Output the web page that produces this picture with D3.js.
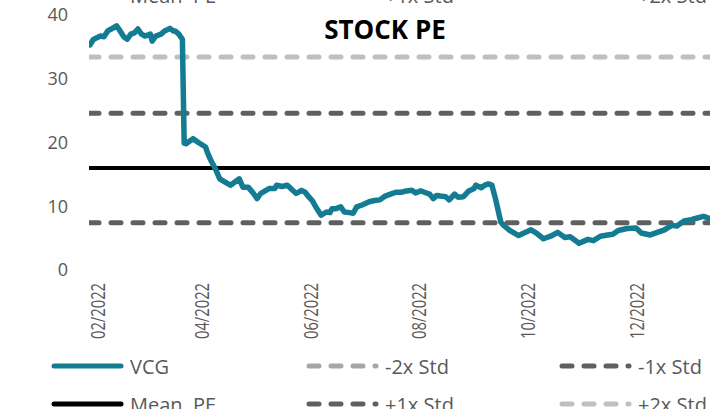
<!DOCTYPE html>
<html>
<head>
<meta charset="utf-8">
<script src="https://cdn.jsdelivr.net/npm/d3@7"></script>
<style>
  html, body { margin: 0; padding: 0; background: #fff; overflow: hidden; }
  svg { display: block; font-family: "Open Sans", sans-serif; }
</style>
</head>
<body>
<svg id="chart" width="710" height="409"></svg>
<script>
// VCG stock PE
const vcgDates = [
  "2022-01-28","2022-01-30","2022-01-31","2022-02-03","2022-02-05","2022-02-07","2022-02-09","2022-02-12",
  "2022-02-14","2022-02-16","2022-02-18","2022-02-20","2022-02-22","2022-02-24","2022-02-26","2022-02-28",
  "2022-03-03","2022-03-04","2022-03-06","2022-03-09","2022-03-11","2022-03-14","2022-03-16","2022-03-17",
  "2022-03-19","2022-03-21","2022-03-22","2022-03-23","2022-03-27","2022-03-30","2022-04-03","2022-04-04",
  "2022-04-06","2022-04-09","2022-04-11","2022-04-14","2022-04-17","2022-04-18","2022-04-22","2022-04-24",
  "2022-04-27","2022-04-30","2022-05-02","2022-05-04","2022-05-07","2022-05-09","2022-05-12","2022-05-13",
  "2022-05-16","2022-05-19","2022-05-22","2022-05-24","2022-05-27","2022-05-29","2022-05-31","2022-06-02",
  "2022-06-04","2022-06-07","2022-06-10","2022-06-12","2022-06-13","2022-06-15","2022-06-18","2022-06-20",
  "2022-06-23","2022-06-25","2022-06-27","2022-06-30","2022-07-04","2022-07-07","2022-07-10","2022-07-13",
  "2022-07-16","2022-07-19","2022-07-22","2022-07-25","2022-07-28","2022-07-30","2022-08-02","2022-08-04",
  "2022-08-07","2022-08-09","2022-08-11","2022-08-13","2022-08-16","2022-08-18","2022-08-21","2022-08-23",
  "2022-08-26","2022-08-29","2022-09-01","2022-09-02","2022-09-05","2022-09-07","2022-09-09","2022-09-11",
  "2022-09-13","2022-09-16","2022-09-18","2022-09-21","2022-09-26","2022-10-03","2022-10-06","2022-10-10",
  "2022-10-14","2022-10-18","2022-10-22","2022-10-25","2022-10-30","2022-11-04","2022-11-07","2022-11-11",
  "2022-11-15","2022-11-18","2022-11-21","2022-11-26","2022-12-01","2022-12-04","2022-12-09","2022-12-13",
  "2022-12-17","2022-12-21","2022-12-24","2022-12-28","2023-01-01","2023-01-05","2023-01-08","2023-01-12"
];
const vcgValues = [
  35.3, 36.2, 36.3, 36.7, 36.6, 37.5, 37.8, 38.3,
  37.5, 36.6, 36.2, 37.0, 37.2, 37.8, 37.0, 36.7,
  37.0, 35.9, 36.7, 37.0, 37.5, 37.9, 37.5, 37.5,
  37.0, 36.2, 19.9, 19.8, 20.6, 20.0, 19.3, 18.5,
  17.2, 15.6, 14.3, 13.8, 13.3, 13.5, 14.3, 13.0,
  13.0, 12.0, 11.2, 12.0, 12.5, 12.8, 12.8, 13.3,
  13.1, 13.3, 12.5, 12.0, 12.5, 12.2, 11.5, 10.9,
  9.9, 8.6, 9.1, 9.0, 9.6, 9.6, 9.9, 9.1,
  9.0, 8.9, 9.9, 10.2, 10.7, 10.9, 11.0, 11.6,
  11.9, 12.2, 12.2, 12.4, 12.5, 12.1, 12.4, 12.2,
  11.9, 11.2, 11.7, 11.6, 11.5, 11.0, 11.9, 11.4,
  11.5, 12.4, 12.8, 13.3, 12.9, 13.3, 13.5, 13.3,
  11.2, 7.5, 6.9, 6.2, 5.4, 6.3, 5.8, 4.9,
  5.3, 5.9, 5.1, 5.2, 4.2, 4.8, 4.6, 5.3,
  5.5, 5.6, 6.2, 6.5, 6.6, 5.8, 5.5, 5.9,
  6.3, 7.0, 6.9, 7.7, 7.9, 8.2, 8.4, 8.0
];

// horizontal reference lines
const bandNames  = ["-2x Std", "-1x Std", "Mean  PE", "+1x Std", "+2x Std"];
const bandValues = [-1.4, 7.4, 16.0, 24.6, 33.4];

const yTicks = [0, 10, 20, 30, 40];
const xTickDates = ["2022-02-01","2022-04-01","2022-06-01","2022-08-01","2022-10-01","2022-12-01"];

const chartTitle = "STOCK PE";
const seriesName = "VCG";

const parse = d3.timeParse("%Y-%m-%d");
const fmt = d3.timeFormat("%m/%Y");

const teal = "#137c93";
const bandStyle = {
  "-2x Std":  {color: "#a6a6a6", dash: true,  width: 5},
  "-1x Std":  {color: "#606060", dash: true,  width: 5},
  "Mean  PE": {color: "#000000", dash: false, width: 4},
  "+1x Std":  {color: "#606060", dash: true,  width: 5},
  "+2x Std":  {color: "#bfbfbf", dash: true,  width: 5}
};

const svg = d3.select("#chart");
const plotLeft = 89, plotRight = 710, plotTop = 0, plotBottom = 272;

const x = d3.scaleTime()
  .domain([parse("2022-02-01"), parse("2022-12-01")])
  .range([97, 636]);
const y = d3.scaleLinear().domain([0, 40]).range([270, 15]);

svg.append("defs").append("clipPath").attr("id", "plotclip")
  .append("rect")
  .attr("x", plotLeft).attr("y", plotTop)
  .attr("width", plotRight - plotLeft).attr("height", plotBottom - plotTop);

// y axis labels
const yAxis = svg.append("g")
  .attr("transform", "translate(68,0)")
  .call(d3.axisLeft(y).tickValues(yTicks).tickSize(0).tickPadding(0));
yAxis.select(".domain").remove();
yAxis.selectAll("text")
  .attr("font-family", "Open Sans")
  .attr("font-size", 18)
  .attr("fill", "#595959");

// x axis labels, rotated
const xAxis = svg.append("g")
  .attr("transform", "translate(0,283)")
  .call(d3.axisBottom(x).tickValues(xTickDates.map(parse)).tickFormat(fmt).tickSize(0).tickPadding(0));
xAxis.select(".domain").remove();
xAxis.selectAll("text")
  .attr("font-family", "Open Sans")
  .attr("font-size", 20)
  .attr("fill", "#595959")
  .attr("text-anchor", "end")
  .attr("transform", "rotate(-90)")
  .attr("x", 0)
  .attr("y", 0)
  .attr("dy", "0.35em")
  .attr("textLength", 56)
  .attr("lengthAdjust", "spacingAndGlyphs");

const plot = svg.append("g").attr("clip-path", "url(#plotclip)");

// reference lines
bandNames.forEach((name, i) => {
  const s = bandStyle[name];
  plot.append("line")
    .attr("x1", plotLeft).attr("x2", plotRight)
    .attr("y1", y(bandValues[i])).attr("y2", y(bandValues[i]))
    .attr("stroke", s.color)
    .attr("stroke-width", s.width)
    .attr("stroke-linecap", s.dash ? "round" : "butt")
    .attr("stroke-dasharray", s.dash ? "10,12" : null);
});

// VCG line
const series = vcgDates.map((d, i) => ({date: parse(d), value: vcgValues[i]}));
plot.append("path")
  .datum(series)
  .attr("fill", "none")
  .attr("stroke", teal)
  .attr("stroke-width", 5.5)
  .attr("stroke-linejoin", "round")
  .attr("stroke-linecap", "round")
  .attr("d", d3.line().x(d => x(d.date)).y(d => y(d.value)));

// title
svg.append("text")
  .attr("x", 385).attr("y", 39)
  .attr("text-anchor", "middle")
  .attr("font-family", "Open Sans")
  .attr("font-weight", "bold")
  .attr("font-size", 26)
  .attr("fill", "#000")
  .text(chartTitle);

// legend
const legendItems = [
  {name: seriesName, color: teal, dash: false, width: 5},
  {name: "-2x Std", ...bandStyle["-2x Std"]},
  {name: "-1x Std", ...bandStyle["-1x Std"]},
  {name: "Mean  PE", ...bandStyle["Mean  PE"]},
  {name: "+1x Std", ...bandStyle["+1x Std"]},
  {name: "+2x Std", ...bandStyle["+2x Std"]}
];
const colX = [52, 307, 560];
const rowY = [366, 404];

function drawLegend(g, items, rows) {
  items.forEach((it, i) => {
    const cx = colX[i % 3], cy = rows[Math.floor(i / 3)];
    g.append("line")
      .attr("x1", cx + 2).attr("x2", cx + 69)
      .attr("y1", cy).attr("y2", cy)
      .attr("stroke", it.color)
      .attr("stroke-width", 5)
      .attr("stroke-linecap", "round")
      .attr("stroke-dasharray", it.dash ? "10,12" : null);
    g.append("text")
      .attr("x", cx + 78).attr("y", cy + 8)
      .attr("font-family", "Open Sans")
      .attr("font-size", 20)
      .attr("fill", "#595959")
      .style("white-space", "pre")
      .text(it.name);
  });
}
drawLegend(svg.append("g"), legendItems, rowY);

// the bottom row of the legend above, cut off at the top edge
const topRow = svg.append("g");
legendItems.slice(3).forEach((it, i) => {
  topRow.append("text")
    .attr("x", colX[i] + 78).attr("y", 3)
    .attr("font-family", "Open Sans")
    .attr("font-size", 20)
    .attr("fill", "#595959")
    .style("white-space", "pre")
    .text(it.name);
});
</script>
</body>
</html>
